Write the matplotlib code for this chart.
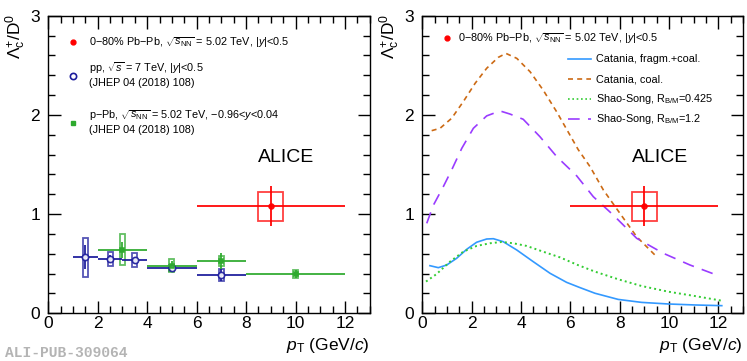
import numpy as np
import matplotlib
matplotlib.use("Agg")
import matplotlib.pyplot as plt
from matplotlib.patches import Rectangle
from matplotlib.ticker import MultipleLocator

plt.rcParams['font.family'] = ['Liberation Sans', 'DejaVu Sans']
plt.rcParams['mathtext.fontset'] = 'custom'
plt.rcParams['mathtext.rm'] = 'Liberation Sans'
plt.rcParams['mathtext.it'] = 'Liberation Sans:italic'
plt.rcParams['mathtext.bf'] = 'Liberation Sans:bold'

# Pb-Pb 0-80%
pbpb_x = [9.0]
pbpb_xerr = [3.0]
pbpb_y = [1.08]
pbpb_stat = [0.20]
pbpb_sys = [0.145]

# pp 7 TeV
pp_x = [1.5, 2.5, 3.5, 5.0, 7.0]
pp_xerr = [0.5, 0.5, 0.5, 1.0, 1.0]
pp_y = [0.565, 0.545, 0.535, 0.46, 0.39]
pp_stat = [0.12, 0.04, 0.035, 0.02, 0.06]
pp_sys = [0.195, 0.07, 0.07, 0.03, 0.06]

# p-Pb 5.02 TeV
ppb_x = [3.0, 5.0, 7.0, 10.0]
ppb_xerr = [1.0, 1.0, 1.0, 2.0]
ppb_y = [0.64, 0.48, 0.53, 0.40]
ppb_stat = [0.08, 0.05, 0.08, 0.04]
ppb_sys = [0.155, 0.065, 0.05, 0.04]

# models
cat_fc_x = [0.31, 0.65, 0.99, 1.39, 1.8, 2.2, 2.61, 2.88, 3.28, 3.83, 4.5, 5.18, 5.85,
            6.36, 7.0, 7.94, 8.89, 9.97, 11.05, 12.14]
cat_fc_y = [0.48, 0.46, 0.487, 0.554, 0.645, 0.716, 0.749, 0.752, 0.722, 0.638, 0.52, 0.403,
            0.312, 0.262, 0.202, 0.14, 0.11, 0.094, 0.084, 0.077]

cat_c_x = [0.38, 0.72, 1.19, 1.66, 2.14, 2.61, 3.08, 3.39, 3.83, 4.37, 4.9, 5.45, 6.0,
           6.32, 6.8, 7.34, 8.01, 8.69, 9.5]
cat_c_y = [1.841, 1.865, 1.966, 2.133, 2.318, 2.47, 2.58, 2.62, 2.57, 2.435, 2.25, 2.03, 1.79,
           1.65, 1.478, 1.243, 1.008, 0.772, 0.57]

ss1_x = [0.15, 0.58, 1.12, 1.66, 2.2, 2.74, 3.22, 3.69, 4.23, 4.9, 5.58, 6.3, 7.0, 7.94,
         8.89, 9.97, 11.05, 12.14]
ss1_y = [0.32, 0.396, 0.52, 0.621, 0.679, 0.706, 0.719, 0.706, 0.679, 0.621, 0.564, 0.487,
         0.42, 0.343, 0.275, 0.218, 0.174, 0.127]

ss2_x = [0.18, 0.45, 0.85, 1.19, 1.6, 2.07, 2.61, 3.15, 3.55, 4.09, 4.77, 5.45, 6.26, 6.93,
         7.74, 8.69, 9.77, 10.85, 11.93]
ss2_y = [0.907, 1.09, 1.276, 1.445, 1.663, 1.865, 1.99, 2.04, 2.009, 1.956, 1.78, 1.579, 1.385,
         1.176, 0.991, 0.756, 0.605, 0.487, 0.386]

RED = '#ff0000'
BLUE = '#1c1c9c'
GREEN = '#2eaa2e'
C_FC = '#3399ff'
C_C = '#cc6a14'
C_S1 = '#33cc33'
C_S2 = '#9a3cff'


def draw_data(ax, x, xerr, y, stat, sys, color, bw, marker, mfc, ms):
    for xi, yi, si in zip(x, y, sys):
        ax.add_patch(Rectangle((xi - bw, yi - si), 2 * bw, 2 * si, fill=False,
                               edgecolor=color, lw=1.3, alpha=0.75, zorder=3))
    ax.errorbar(x, y, xerr=xerr, yerr=stat, fmt=marker, color=color, mfc=mfc,
                mec=color, ms=ms, mew=1.2, elinewidth=1.4, capsize=0, alpha=0.9, zorder=4)


def style(ax):
    ax.set_xlim(0, 13)
    ax.set_ylim(0, 3)
    ax.xaxis.set_major_locator(MultipleLocator(2))
    ax.xaxis.set_minor_locator(MultipleLocator(0.5))
    ax.yaxis.set_major_locator(MultipleLocator(1))
    ax.yaxis.set_minor_locator(MultipleLocator(0.2))
    ax.tick_params(which='both', direction='in', top=True, right=True, labelsize=12.5, pad=2)
    ax.tick_params(which='major', length=9, width=1)
    ax.tick_params(which='minor', length=5, width=1)
    ax.tick_params(axis='y', which='major', pad=6)
    for s in ax.spines.values():
        s.set_linewidth(1)


fig = plt.figure(figsize=(7.47, 3.61), dpi=100)
W, H = 747.0, 361.0
ax1 = fig.add_axes([48.3 / W, 47.7 / H, (369.7 - 48.3) / W, (313.3 - 15.7) / H])
ax2 = fig.add_axes([422.3 / W, 47.7 / H, (743.0 - 422.3) / W, (313.3 - 15.7) / H])

pbpb_label = r'0$-$80% Pb$-$Pb, $\sqrt{s_{\rm NN}}$ = 5.02 TeV, |$y$|<0.5'

# left panel
style(ax1)
draw_data(ax1, pp_x, pp_xerr, pp_y, pp_stat, pp_sys, BLUE, 0.1, 'o', 'white', 4.5)
draw_data(ax1, ppb_x, ppb_xerr, ppb_y, ppb_stat, ppb_sys, GREEN, 0.1, 's', GREEN, 3.5)
draw_data(ax1, pbpb_x, pbpb_xerr, pbpb_y, pbpb_stat, pbpb_sys, RED, 0.5, 'o', RED, 3.5)

ax1.plot([1.0], [2.73], 'o', color=RED, ms=3.5)
ax1.text(1.65, 2.73, pbpb_label, fontsize=7.8, va='center')
ax1.plot([1.0], [2.39], 'o', color=BLUE, mfc='white', ms=4.5, mew=1.2)
ax1.text(1.65, 2.47, r'pp, $\sqrt{s}$ = 7 TeV, |$y$|<0.5', fontsize=7.8, va='center')
ax1.text(1.65, 2.32, '(JHEP 04 (2018) 108)', fontsize=7.8, va='center')
ax1.plot([1.0], [1.92], 's', color=GREEN, ms=3.5)
ax1.text(1.65, 2.00, r'p$-$Pb, $\sqrt{s_{\rm NN}}$ = 5.02 TeV, $-$0.96<$y$<0.04', fontsize=7.8, va='center')
ax1.text(1.65, 1.85, '(JHEP 04 (2018) 108)', fontsize=7.8, va='center')
ax1.text(8.5, 1.57, 'ALICE', fontsize=14, va='center')

# right panel
style(ax2)
ax2.plot(cat_fc_x, cat_fc_y, '-', color=C_FC, lw=1.2)
ax2.plot(cat_c_x, cat_c_y, color=C_C, lw=1.2, ls=(0, (3, 2.5)))
ax2.plot(ss1_x, ss1_y, color=C_S1, lw=1.4, ls=(0, (1, 1.6)))
ax2.plot(ss2_x, ss2_y, color=C_S2, lw=1.2, ls=(0, (7, 5)))
draw_data(ax2, pbpb_x, pbpb_xerr, pbpb_y, pbpb_stat, pbpb_sys, RED, 0.5, 'o', RED, 3.5)

ax2.plot([0.99], [2.78], 'o', color=RED, ms=3.5)
ax2.text(1.45, 2.78, pbpb_label, fontsize=7.8, va='center')
model_labels = ['Catania, fragm.+coal.', 'Catania, coal.',
                r'Shao-Song, R$_{\rm B/M}$=0.425', r'Shao-Song, R$_{\rm B/M}$=1.2']
model_colors = [C_FC, C_C, C_S1, C_S2]
model_styles = ['-', (0, (3, 2.5)), (0, (1, 1.6)), (0, (7, 5))]
for i, (lab, c, ls) in enumerate(zip(model_labels, model_colors, model_styles)):
    yy = 2.56 - 0.2 * i
    ax2.plot([5.9, 6.85], [yy, yy], color=c, ls=ls, lw=1.2)
    ax2.text(7.05, yy, lab, fontsize=7.8, va='center')
ax2.text(8.5, 1.57, 'ALICE', fontsize=14, va='center')

for ax in (ax1, ax2):
    ax.text(1.0, -0.075, r'$p_{\rm T}$ (GeV/$c$)', transform=ax.transAxes,
            ha='right', va='top', fontsize=12.5)
    ax.text(-0.1, 1.005, r'$\Lambda_{\rm c}^{+}$/D$^{0}$', transform=ax.transAxes,
            rotation=90, ha='center', va='top', fontsize=12.5)

fig.text(5 / W, 1 - 353 / H, 'ALI-PUB-309064', family='Liberation Mono', weight='bold',
         color='#b4b4b4', fontsize=10.5, va='center', ha='left')

fig.savefig('out.png', dpi=100)
